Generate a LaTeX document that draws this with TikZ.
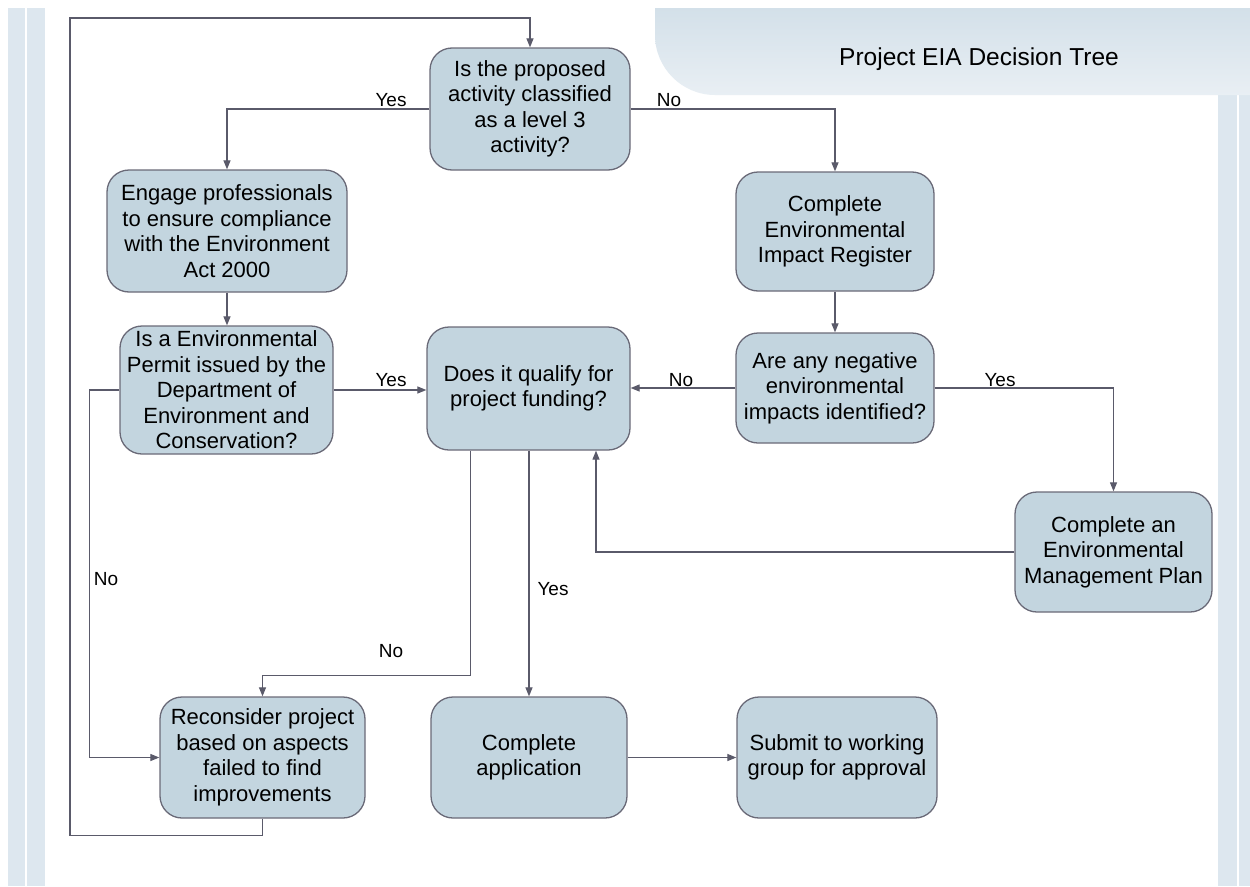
\documentclass[tikz,border=0pt]{standalone}
\usepackage{fontspec}
\setmainfont{Liberation Sans}
\usetikzlibrary{arrows.meta,calc}
\definecolor{boxfill}{HTML}{C3D5DF}
\definecolor{boxdraw}{HTML}{6A6A78}
\definecolor{linec}{HTML}{5A5A6A}
\definecolor{stripe}{HTML}{DDE7EF}
\definecolor{bannertop}{HTML}{D3E0E9}
\definecolor{bannerbot}{HTML}{E9EFF4}
\begin{document}
\begin{tikzpicture}[x=1pt,y=-1pt,
  box/.style={draw=boxdraw, line width=1.3pt, fill=boxfill, rounded corners=22pt, align=center,
    font=\fontsize{22}{25.5}\selectfont, inner sep=0pt},
  conn/.style={draw=linec, line width=1.2pt, -{Triangle[length=9pt,width=7pt]}},
  lab/.style={font=\fontsize{19}{21}\selectfont, inner sep=0pt}]
\useasboundingbox[fill=white] (0,0) rectangle (1250,886);
% side stripes
\fill[stripe] (8,8) rectangle (45,886);
\draw[white, line width=1.5pt] (26,8) -- (26,886);
\fill[stripe] (1218,95) rectangle (1250,886);
\draw[white, line width=1.5pt] (1238,95) -- (1238,886);
% title banner
\shade[top color=bannertop, bottom color=bannerbot]
  (655,8) -- (1250,8) -- (1250,95) -- (715,95) .. controls (682,95) and (655,68) .. (655,35) -- cycle;
\node[font=\fontsize{24.5}{28}\selectfont] (title) at (979,59) {Project EIA Decision Tree};
% nodes
\node[box, minimum width=200pt, minimum height=122pt] (n1) at (530,109)
  {Is the proposed\\activity classified\\as a level 3\\activity?};
\node[box, minimum width=240pt, minimum height=122pt] (n2) at (227,231)
  {Engage professionals\\to ensure compliance\\with the Environment\\Act 2000};
\node[box, minimum width=198pt, minimum height=119pt] (n3) at (835,231.5)
  {Complete\\Environmental\\Impact Register};
\node[box, minimum width=213pt, minimum height=128pt] (n4) at (226.5,390)
  {Is a Environmental\\Permit issued by the\\Department of\\Environment and\\Conservation?};
\node[box, minimum width=203pt, minimum height=123pt] (n5) at (528.5,388.5)
  {Does it qualify for\\project funding?};
\node[box, minimum width=198pt, minimum height=110pt] (n6) at (835,388)
  {Are any negative\\environmental\\impacts identified?};
\node[box, minimum width=197pt, minimum height=120pt] (n7) at (1113.5,552)
  {Complete an\\Environmental\\Management Plan};
\node[box, minimum width=205pt, minimum height=121pt] (n8) at (262.5,757.5)
  {Reconsider project\\based on aspects\\failed to find\\improvements};
\node[box, minimum width=196pt, minimum height=121pt] (n9) at (529,757.5)
  {Complete\\application};
\node[box, minimum width=200pt, minimum height=121pt] (n10) at (837,757.5)
  {Submit to working\\group for approval};
% connectors
\draw[conn] (n1.west) -| (n2.north);
\draw[conn] (n1.east) -| (n3.north);
\draw[conn] (n2.south) -- (n2.south |- n4.north);
\draw[conn] (n3.south) -- (n3.south |- n6.north);
\draw[conn] (n4.east) -- (n5.west |- n4.east);
\draw[conn] (n6.west) -- (n5.east |- n6.west);
\draw[conn] (n6.east) -| (n7.north);
\draw[conn] (n7.west) -| ([xshift=67.5pt]n5.south);
\draw[conn] ([xshift=-58pt]n5.south) -- ++(0,225) -| (n8.north);
\draw[conn] (n5.south -| n9.north) -- (n9.north);
\draw[conn] (n4.west) -- ++(-30,0) |- (n8.west);
\draw[conn] (n9.east) -- (n10.west |- n9.east);
\coordinate (lp) at (70,18);
\draw[conn] (n8.south) -- ++(0,17) -| (lp) -| (n1.north);
% labels
\node[lab] (y1) at (391,100) {Yes};
\node[lab] (no1) at (669,100) {No};
\node[lab] (y2) at (391,380) {Yes};
\node[lab] (no2) at (681,380) {No};
\node[lab] (y3) at (1000,380) {Yes};
\node[lab] (no3) at (106,579) {No};
\node[lab] (no4) at (391,651) {No};
\node[lab] (y4) at (553,589) {Yes};
\end{tikzpicture}
\end{document}
